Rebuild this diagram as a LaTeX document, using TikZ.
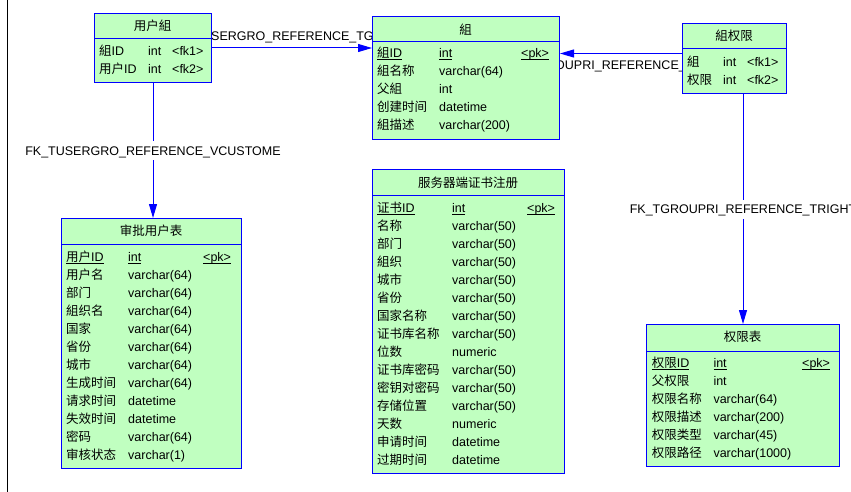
\documentclass[tikz,border=0pt]{standalone}
\usepackage{fontspec}
\setmainfont{Liberation Sans}
\newfontfamily\zhfont{Noto Sans CJK SC}
\usetikzlibrary{arrows.meta,calc}
\newcommand\zh[1]{{\zhfont #1}}
\newcommand\pkul[1]{\sbox0{#1}\rlap{\rule[-2.2pt]{\wd0}{0.9pt}}\copy0}
\definecolor{tblblue}{RGB}{0,0,255}
\definecolor{tblgreen}{RGB}{192,255,192}
\tikzset{
  tbl/.style={draw=tblblue, fill=tblgreen, line width=1pt, inner sep=0pt, anchor=north west},
  tblline/.style={draw=tblblue, line width=1pt},
  txt/.style={anchor=base west, inner sep=0pt, font=\fontsize{12.5}{15}\selectfont},
  hdr/.style={anchor=base, inner sep=0pt, font=\fontsize{12.5}{15}\selectfont},
  lab/.style={anchor=base west, inner sep=0pt, font=\fontsize{12.5}{15}\selectfont},
  fk/.style={draw=tblblue, line width=1pt, -{Triangle[length=14pt,width=8pt]}},
  fklab/.style={fill=white, inner xsep=1pt, inner ysep=5pt, text height=9pt, text depth=0pt, font=\fontsize{12.5}{15}\selectfont}
}
\begin{document}
\begin{tikzpicture}[x=1pt,y=-1pt]
\useasboundingbox (0,0) rectangle (851,492);
\fill[white] (0,0) rectangle (851,492);
\draw[black, line width=1pt] (7,0) -- (7,492);

% connector labels partly hidden behind the tables
\node[lab] (l1) at (171.4,41) {FK\_TUSERGRO\_REFERENCE\_TGROUP};
\node[lab] (l2) at (505.7,70) {FK\_TGROUPRI\_REFERENCE\_};

% ---------- 用户組 ----------
\node[tbl, minimum width=117pt, minimum height=69pt] (A) at (94,13) {};
\draw[tblline] ($(A.north west)+(0,26)$) -- ($(A.north east)+(0,26)$);
\node[hdr] at (152.5,31) {\zh{用户組}};
\node[txt] at (99,55.2) {\zh{組}ID};
\node[txt] at (148,55.2) {int};
\node[txt] at (172,55.2) {<fk1>};
\node[txt] at (99,73.2) {\zh{用户}ID};
\node[txt] at (148,73.2) {int};
\node[txt] at (172,73.2) {<fk2>};

% ---------- 組 ----------
\node[tbl, minimum width=187pt, minimum height=123pt] (B) at (372,16) {};
\draw[tblline] ($(B.north west)+(0,26)$) -- ($(B.north east)+(0,26)$);
\node[hdr] at (465.5,34.5) {\zh{組}};
\node[txt] at (377,57.8) {\pkul{\zh{組}ID}};
\node[txt] at (439,57.8) {\pkul{int}};
\node[txt] at (521,57.8) {\pkul{<pk>}};
\foreach \n/\t [count=\i] in {\zh{組名称}/varchar(64), \zh{父組}/int, \zh{创建时间}/datetime, \zh{組描述}/varchar(200)}{
  \node[txt] at (377,{57.8+18*\i}) {\n};
  \node[txt] at (439,{57.8+18*\i}) {\t};
}

% ---------- 組权限 ----------
\node[tbl, minimum width=104pt, minimum height=70pt] (C) at (682,23) {};
\draw[tblline] ($(C.north west)+(0,26)$) -- ($(C.north east)+(0,26)$);
\node[hdr] at (734,40.5) {\zh{組权限}};
\node[txt] at (687,66.2) {\zh{組}};
\node[txt] at (723,66.2) {int};
\node[txt] at (747,66.2) {<fk1>};
\node[txt] at (687,84.2) {\zh{权限}};
\node[txt] at (723,84.2) {int};
\node[txt] at (747,84.2) {<fk2>};

% ---------- 审批用户表 ----------
\node[tbl, minimum width=180pt, minimum height=250pt] (D) at (61,218) {};
\draw[tblline] ($(D.north west)+(0,26)$) -- ($(D.north east)+(0,26)$);
\node[hdr] at (151,235.5) {\zh{审批用户表}};
\node[txt] at (66,261.2) {\pkul{\zh{用户}ID}};
\node[txt] at (128,261.2) {\pkul{int}};
\node[txt] at (203,261.2) {\pkul{<pk>}};
\foreach \n/\t [count=\i] in {\zh{用户名}/varchar(64), \zh{部门}/varchar(64), \zh{組织名}/varchar(64), \zh{国家}/varchar(64), \zh{省份}/varchar(64), \zh{城市}/varchar(64), \zh{生成时间}/varchar(64), \zh{请求时间}/datetime, \zh{失效时间}/datetime, \zh{密码}/varchar(64), \zh{审核状态}/varchar(1)}{
  \node[txt] at (66,{261.2+18.03*\i}) {\n};
  \node[txt] at (128,{261.2+18.03*\i}) {\t};
}

% ---------- 服务器端证书注册 ----------
\node[tbl, minimum width=192pt, minimum height=304pt] (E) at (372,169) {};
\draw[tblline] ($(E.north west)+(0,26)$) -- ($(E.north east)+(0,26)$);
\node[hdr] at (468,187.8) {\zh{服务器端证书注册}};
\node[txt] at (377,212.8) {\pkul{\zh{证书}ID}};
\node[txt] at (452,212.8) {\pkul{int}};
\node[txt] at (527,212.8) {\pkul{<pk>}};
\foreach \n/\t [count=\i] in {\zh{名称}/varchar(50), \zh{部门}/varchar(50), \zh{組织}/varchar(50), \zh{城市}/varchar(50), \zh{省份}/varchar(50), \zh{国家名称}/varchar(50), \zh{证书库名称}/varchar(50), \zh{位数}/numeric, \zh{证书库密码}/varchar(50), \zh{密钥对密码}/varchar(50), \zh{存储位置}/varchar(50), \zh{天数}/numeric, \zh{申请时间}/datetime, \zh{过期时间}/datetime}{
  \node[txt] at (377,{212.8+17.98*\i}) {\n};
  \node[txt] at (452,{212.8+17.98*\i}) {\t};
}

% ---------- 权限表 ----------
\node[tbl, minimum width=193pt, minimum height=142pt] (F) at (646,324) {};
\draw[tblline] ($(F.north west)+(0,27.5)$) -- ($(F.north east)+(0,27.5)$);
\node[hdr] at (742.5,341.2) {\zh{权限表}};
\node[txt] at (651.7,367.2) {\pkul{\zh{权限}ID}};
\node[txt] at (713.3,367.2) {\pkul{int}};
\node[txt] at (802,367.2) {\pkul{<pk>}};
\foreach \n/\t [count=\i] in {\zh{父权限}/int, \zh{权限名称}/varchar(64), \zh{权限描述}/varchar(200), \zh{权限类型}/varchar(45), \zh{权限路径}/varchar(1000)}{
  \node[txt] at (651.7,{367.2+18.1*\i}) {\n};
  \node[txt] at (713.3,{367.2+18.1*\i}) {\t};
}

% ---------- connectors ----------
\draw[fk] (A.east) -- (A.east -| B.west);
\coordinate (c2) at ($(C.west)+(0,-5)$);
\draw[fk] (c2) -- (c2 -| B.east);
\draw[fk] (A.south) -- (A.south |- D.north)
  node[fklab, midway] {FK\_TUSERGRO\_REFERENCE\_VCUSTOME};
\draw[fk] (F.north |- C.south) -- (F.north)
  node[fklab, midway] {FK\_TGROUPRI\_REFERENCE\_TRIGHT};
\end{tikzpicture}
\end{document}
